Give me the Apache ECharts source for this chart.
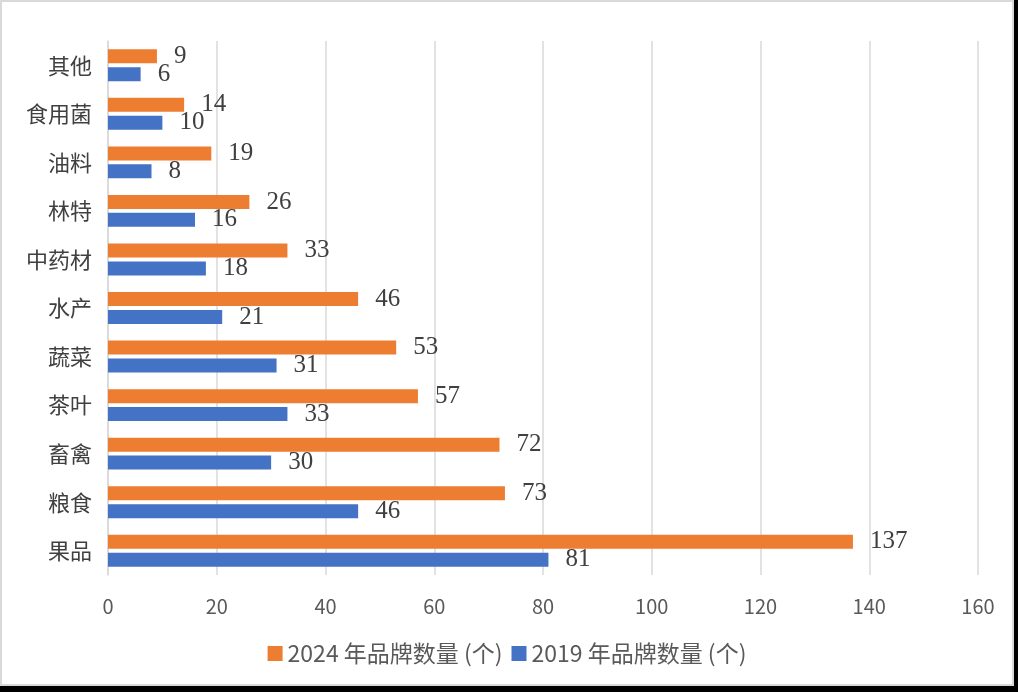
<!DOCTYPE html>
<html>
<head>
<meta charset="utf-8">
<script src="https://cdn.jsdelivr.net/npm/echarts@6/dist/echarts.min.js"></script>
<style>
  html, body { margin: 0; padding: 0; background: #000; }
  .frame {
    position: absolute; left: 0; top: 0;
    width: 1014px; height: 686px;
    box-sizing: border-box;
    border: 2px solid #d9d9d9;
    background: #fff;
  }
  #chart { width: 1010px; height: 682px; }
</style>
</head>
<body>
<div class="frame"><div id="chart"></div></div>
<script>
// categories listed bottom to top
var categories = ['果品', '粮食', '畜禽', '茶叶', '蔬菜', '水产', '中药材', '林特', '油料', '食用菌', '其他'];
var brands2024 = [137, 73, 72, 57, 53, 46, 33, 26, 19, 14, 9];
var brands2019 = [81, 46, 30, 33, 31, 21, 18, 16, 8, 10, 6];
var xTicks     = [0, 20, 40, 60, 80, 100, 120, 140, 160];

var chart = echarts.init(document.getElementById('chart'));

var labelStyle = {
  show: true,
  position: 'right',
  distance: 17,
  fontFamily: 'Liberation Serif',
  fontSize: 25,
  color: '#404040'
};

var option = {
  animation: false,
  grid: { left: 106, right: 34, top: 39, bottom: 109 },
  legend: {
    data: ['2024 年品牌数量 (个)', '2019 年品牌数量 (个)'],
    top: 635,
    left: 'center',
    itemWidth: 15,
    itemHeight: 15,
    itemGap: 9,
    icon: 'rect',
    textStyle: { fontFamily: 'Noto Sans CJK SC', fontSize: 23, color: '#595959' }
  },
  xAxis: {
    type: 'value',
    min: xTicks[0],
    max: xTicks[xTicks.length - 1],
    interval: 20,
    axisLine: { show: false },
    axisTick: { show: false },
    axisLabel: { margin: 21, fontFamily: 'Noto Sans CJK SC', fontSize: 20, color: '#595959' },
    splitLine: { lineStyle: { color: '#d9d9d9', width: 1.5 } }
  },
  yAxis: {
    type: 'category',
    data: categories,
    axisLine: { lineStyle: { color: '#d9d9d9', width: 1.5 } },
    axisTick: { show: false },
    axisLabel: { margin: 16, fontFamily: 'Noto Sans CJK SC', fontSize: 22, color: '#404040' }
  },
  series: [
    {
      name: '2024 年品牌数量 (个)',
      type: 'bar',
      data: brands2024,
      barWidth: 14,
      barGap: '28%',
      itemStyle: { color: '#ed7d31' },
      label: labelStyle
    },
    {
      name: '2019 年品牌数量 (个)',
      type: 'bar',
      data: brands2019,
      barWidth: 14,
      barGap: '28%',
      itemStyle: { color: '#4472c4' },
      label: labelStyle
    }
  ]
};

chart.setOption(option);
</script>
</body>
</html>
